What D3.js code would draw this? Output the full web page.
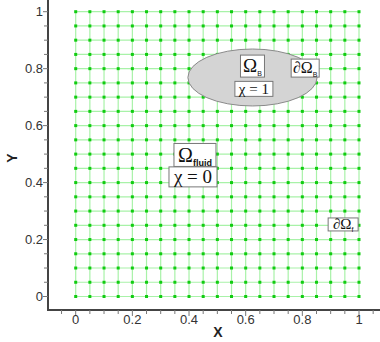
<!DOCTYPE html>
<html><head><meta charset="utf-8">
<script src="https://cdn.jsdelivr.net/npm/d3@7"></script>
<style>body{margin:0;background:#fff}svg{display:block}</style>
</head><body>
<script>
// grid nodes, 0..1 step 0.05
var gridVals = d3.range(0, 21).map(function (i) { return +(i * 0.05).toFixed(2); });
var majorTicks = [0, 0.2, 0.4, 0.6, 0.8, 1];
var tickLabels = ['0', '0.2', '0.4', '0.6', '0.8', '1'];
var minorX = d3.range(-6, 24).map(function (i) { return +(i * 0.05).toFixed(2); });
var minorY = d3.range(-1, 22).map(function (i) { return +(i * 0.05).toFixed(2); });
// solid body ellipse: centre x, centre y, radius x, radius y
var body = [{cx: 0.624, cy: 0.769, rx: 0.228, ry: 0.1}];
// boxed labels: x, y, main text, subscript
var labels = [
  {x: 0.624, y: 0.809, t: 'Ω', sub: 'B', w: 24, h: 22, size: 19},
  {x: 0.629, y: 0.729, t: 'χ = 1', sub: '', w: 38, h: 15, size: 15},
  {x: 0.810, y: 0.802, t: '∂Ω', sub: 'B', w: 28, h: 18, size: 16},
  {x: 0.421, y: 0.497, t: 'Ω', sub: 'fluid', w: 42, h: 23, size: 20},
  {x: 0.414, y: 0.420, t: 'χ = 0', sub: '', w: 48, h: 20, size: 19},
  {x: 0.944, y: 0.253, t: '∂Ω', sub: 'f', w: 30, h: 13, size: 15}
];

var W = 380, H = 342;
var svg = d3.select('body').append('svg').attr('width', W).attr('height', H);

var x = d3.scaleLinear().domain([0, 1]).range([75.7, 359]);
var y = d3.scaleLinear().domain([0, 1]).range([296.5, 11.7]);
var axisX = 48, axisY = 310;

// grid lines
var g = svg.append('g');
gridVals.forEach(function (v) {
  g.append('line').attr('x1', x(v)).attr('x2', x(v)).attr('y1', y(0)).attr('y2', y(1))
    .attr('stroke', '#a8f2a8').attr('stroke-width', 1.2);
  g.append('line').attr('x1', x(0)).attr('x2', x(1)).attr('y1', y(v)).attr('y2', y(v))
    .attr('stroke', '#a8f2a8').attr('stroke-width', 1.2);
});

// nodes
var nodes = [];
gridVals.forEach(function (a) { gridVals.forEach(function (b) { nodes.push([a, b]); }); });
svg.append('g').selectAll('rect').data(nodes).enter().append('rect')
  .attr('x', function (d) { return x(d[0]) - 1.5; })
  .attr('y', function (d) { return y(d[1]) - 1.5; })
  .attr('width', 3).attr('height', 3).attr('fill', '#11cc11');

// ellipse body, drawn over the mesh
svg.selectAll('ellipse').data(body).enter().append('ellipse')
  .attr('cx', function (d) { return x(d.cx); })
  .attr('cy', function (d) { return y(d.cy); })
  .attr('rx', function (d) { return x(d.rx) - x(0); })
  .attr('ry', function (d) { return y(0) - y(d.ry); })
  .attr('fill', '#d4d4d4').attr('stroke', '#8a8a8a').attr('stroke-width', 1);

// labels
var lg = svg.append('g').selectAll('g').data(labels).enter().append('g')
  .attr('transform', function (d) { return 'translate(' + x(d.x) + ',' + y(d.y) + ')'; });
lg.append('rect')
  .attr('x', function (d) { return -d.w / 2; }).attr('y', function (d) { return -d.h / 2; })
  .attr('width', function (d) { return d.w; }).attr('height', function (d) { return d.h; })
  .attr('fill', '#fff').attr('stroke', '#777').attr('stroke-width', 1);
var txt = lg.append('text').attr('text-anchor', 'middle')
  .attr('y', function (d) { return d.size * 0.33; })
  .style('font-family', '"Liberation Serif", serif')
  .style('font-size', function (d) { return d.size + 'px'; })
  .attr('fill', '#111');
txt.append('tspan').text(function (d) { return d.t; });
txt.append('tspan')
  .attr('dy', function (d) { return d.size * 0.2; })
  .style('font-family', '"Liberation Sans", Arial, sans-serif')
  .style('font-size', function (d) { return d.sub === 'fluid' ? '9px' : '7px'; })
  .style('font-weight', function (d) { return d.sub === 'fluid' ? 'bold' : 'normal'; })
  .text(function (d) { return d.sub; });

// axes
var ax = svg.append('g').attr('stroke', '#444');
ax.append('line').attr('x1', axisX).attr('x2', axisX).attr('y1', 0).attr('y2', axisY + 1)
  .attr('stroke-width', 2);
ax.append('line').attr('x1', axisX - 1).attr('x2', W).attr('y1', axisY).attr('y2', axisY)
  .attr('stroke-width', 2);
minorX.filter(function (v) { return x(v) > axisX + 2 && x(v) < W; }).forEach(function (v) {
  var major = majorTicks.indexOf(v) >= 0;
  ax.append('line').attr('x1', x(v)).attr('x2', x(v)).attr('y1', axisY)
    .attr('y2', axisY + (major ? 6 : 4)).attr('stroke-width', 1).attr('stroke', '#777');
});
minorY.filter(function (v) { return y(v) > 2 && y(v) < axisY - 2; }).forEach(function (v) {
  var major = majorTicks.indexOf(v) >= 0;
  ax.append('line').attr('x1', axisX).attr('x2', axisX - (major ? 5 : 4)).attr('y1', y(v))
    .attr('y2', y(v)).attr('stroke-width', 1).attr('stroke', '#777');
});

var font = '"Liberation Sans", Arial, sans-serif';
svg.append('g').selectAll('text').data(majorTicks).enter().append('text')
  .attr('x', function (d) { return x(d); }).attr('y', 324)
  .attr('text-anchor', 'middle').style('font-family', font).style('font-size', '13px')
  .attr('fill', '#333').text(function (d, i) { return tickLabels[i]; });
svg.append('g').selectAll('text').data(majorTicks).enter().append('text')
  .attr('x', 43).attr('y', function (d) { return y(d) + 4.5; })
  .attr('text-anchor', 'end').style('font-family', font).style('font-size', '13px')
  .attr('fill', '#333').text(function (d, i) { return tickLabels[i]; });

svg.append('text').attr('x', 218).attr('y', 337).attr('text-anchor', 'middle')
  .style('font-family', font).style('font-size', '14px').style('font-weight', 'bold')
  .attr('fill', '#222').text('X');
svg.append('text').attr('transform', 'translate(17,158) rotate(-90)').attr('text-anchor', 'middle')
  .style('font-family', font).style('font-size', '14px').style('font-weight', 'bold')
  .attr('fill', '#222').text('Y');
</script>
</body></html>
